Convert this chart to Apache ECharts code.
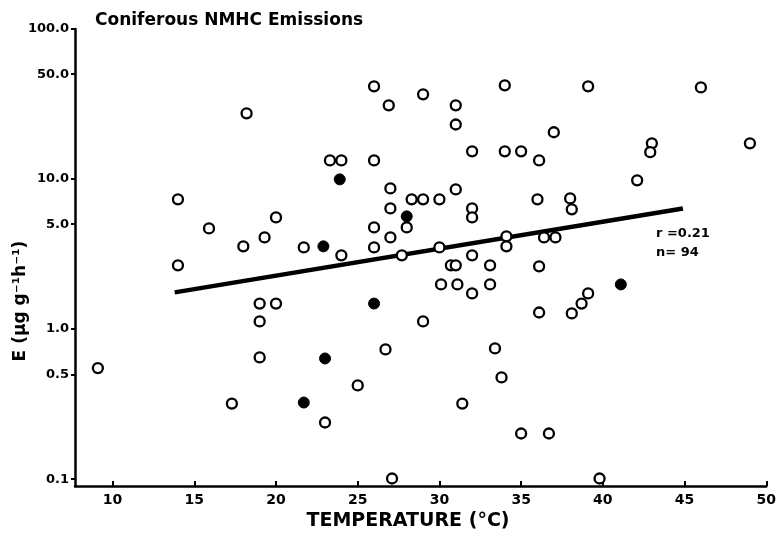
<!DOCTYPE html>
<html>
<head>
<meta charset="utf-8">
<script src="https://cdn.jsdelivr.net/npm/echarts@6/dist/echarts.min.js"></script>
<style>
html,body{margin:0;padding:0;background:#fff;}
#c{width:779px;height:536px;}
</style>
</head>
<body>
<div id="c"></div>
<script>
// Data
var titleText = 'Coniferous NMHC Emissions';
var xName = 'TEMPERATURE (°C)';
var yName = 'E (μg g⁻¹h⁻¹)';
var xTicks = [10, 15, 20, 25, 30, 35, 40, 45, 50];
var yTicks = [0.1, 0.5, 1, 5, 10, 50, 100];
var statsLines = ['r =0.21', 'n= 94'];

// open circles: [temperature, emission]
var openPts = [
  [9.1,0.55],[14.0,7.32],[14.0,2.66],[15.9,4.69],[18.0,3.56],[18.2,27.4],[17.3,0.319],
  [19.3,4.08],[20.0,5.55],[19.0,1.48],[20.0,1.48],[19.0,1.125],[19.0,0.647],[21.7,3.50],
  [23.0,0.2385],[23.3,13.3],[24.0,13.3],[24.0,3.10],[25.0,0.421],[26.0,41.5],[26.0,13.3],
  [26.0,4.76],[26.0,3.50],[26.9,31.0],[27.0,8.66],[27.0,6.37],[27.0,4.08],[27.1,0.101],
  [26.7,0.732],[27.7,3.10],[28.0,4.76],[28.3,7.32],[29.0,36.7],[29.0,7.32],[29.0,1.125],
  [30.0,7.32],[30.0,3.50],[30.1,1.985],[30.7,2.66],[31.0,31.0],[31.0,23.1],[31.0,8.53],
  [31.0,2.66],[31.1,1.985],[31.4,0.319],[32.0,15.3],[32.0,6.37],[32.0,5.55],[32.0,3.10],
  [32.0,1.729],[33.1,2.66],[33.1,1.985],[33.4,0.743],[33.8,0.476],[34.0,42.1],[34.0,15.3],
  [34.1,4.15],[34.1,3.56],[35.0,15.3],[35.0,0.2015],[36.1,13.3],[36.0,7.32],[36.1,2.62],
  [36.1,1.29],[36.4,4.08],[36.7,0.2015],[37.0,20.5],[37.1,4.08],[38.0,7.43],[38.1,6.28],
  [38.1,1.272],[38.7,1.48],[39.1,41.5],[39.1,1.729],[39.8,0.101],[42.1,9.80],[43.0,17.3],
  [42.9,15.1],[46.0,40.8],[49.0,17.3]
];
// filled circles
var filledPts = [
  [23.9,9.95],[22.9,3.56],[28.0,5.64],[26.0,1.48],[23.0,0.637],[21.7,0.324],[41.1,1.985]
];
// regression line end points
var fitLine = [[13.8,1.756],[44.9,6.37]];

var FONT = 'DejaVu Sans';
var chart = echarts.init(document.getElementById('c'), null, {renderer:'canvas'});
chart.setOption({
  backgroundColor:'#fff',
  animation:false,
  grid:{left:75, right:11, top:29, bottom:50, containLabel:false},
  xAxis:{
    type:'value', min:7.7, max:50,
    axisLine:{show:true, onZero:false, lineStyle:{color:'#000', width:2.5}},
    axisTick:{show:true, inside:true, length:5, customValues:xTicks, lineStyle:{color:'#000', width:2}},
    axisLabel:{customValues:xTicks, color:'#000', fontFamily:FONT, fontWeight:'bold', fontSize:14, margin:7},
    splitLine:{show:false}
  },
  yAxis:{
    type:'log', min:0.09, max:100,
    axisLine:{show:true, onZero:false, lineStyle:{color:'#000', width:2.5}},
    axisTick:{show:true, inside:false, length:4, customValues:yTicks, lineStyle:{color:'#000', width:2}},
    axisLabel:{customValues:yTicks, color:'#000', fontFamily:FONT, fontWeight:'bold', fontSize:13, margin:6,
      formatter:function(v){return Number(v).toFixed(1);}},
    splitLine:{show:false},
    minorTick:{show:false}
  },
  series:[
    {type:'line', data:fitLine, symbol:'none', lineStyle:{color:'#000', width:4.5}, z:2},
    {type:'scatter', data:openPts, symbol:'circle', symbolSize:10,
      itemStyle:{color:'#fff', borderColor:'#000', borderWidth:2.3, opacity:1}, z:3},
    {type:'scatter', data:filledPts, symbol:'circle', symbolSize:11,
      itemStyle:{color:'#000', borderColor:'#000', borderWidth:1, opacity:1}, z:4}
  ],
  graphic:[
    {type:'text', left:95, top:12, style:{text:titleText, fill:'#000', font:'bold 17px "DejaVu Sans"'}},
    {type:'text', x:408, y:521, style:{text:xName, fill:'#000', font:'bold 19px "DejaVu Sans"', textAlign:'center', textVerticalAlign:'middle'}},
    {type:'text', x:21, y:301, rotation:Math.PI/2, style:{text:yName, fill:'#000', font:'bold 17px "DejaVu Sans"', textAlign:'center', textVerticalAlign:'middle'}},
    {type:'text', x:656, y:234, style:{text:statsLines[0], fill:'#000', font:'bold 13px "DejaVu Sans"', textAlign:'left', textVerticalAlign:'middle'}},
    {type:'text', x:656, y:253, style:{text:statsLines[1], fill:'#000', font:'bold 13px "DejaVu Sans"', textAlign:'left', textVerticalAlign:'middle'}}
  ]
});
</script>
</body>
</html>
